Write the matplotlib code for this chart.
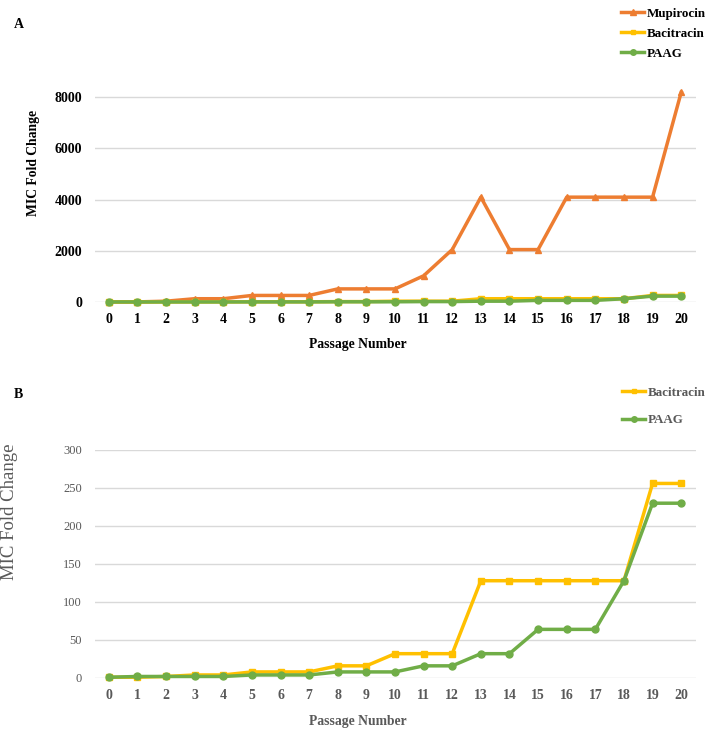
import matplotlib
matplotlib.use('Agg')
import matplotlib.pyplot as plt
from matplotlib.lines import Line2D

# Data
passages = list(range(21))
mupirocin = [1, 4, 32, 128, 128, 256, 256, 256, 512, 512, 512, 1024, 2048,
             4096, 2048, 2048, 4096, 4096, 4096, 4096, 8192]
bacitracin = [1, 1, 2, 4, 4, 8, 8, 8, 16, 16, 32, 32, 32,
              128, 128, 128, 128, 128, 128, 256, 256]
paag = [1, 2, 2, 2, 2, 4, 4, 4, 8, 8, 8, 16, 16,
        32, 32, 64, 64, 64, 128, 230, 230]

ticks_a = [0, 2000, 4000, 6000, 8000]
ticks_b = [0, 50, 100, 150, 200, 250, 300]

ORANGE = '#ED7D31'
GOLD = '#FFC000'
GREEN = '#70AD47'
GRID = '#D9D9D9'
GREY_TXT = '#595959'

plt.rcParams['font.family'] = ['Liberation Serif', 'DejaVu Serif']

W, H = 712, 731
fig = plt.figure(figsize=(W / 100, H / 100), dpi=100)


def px_axes(left, top, right, bottom):
    return fig.add_axes([left / W, 1 - bottom / H, (right - left) / W, (bottom - top) / H])


def px_text(x, y, s, **kw):
    return fig.text(x / W, 1 - y / H, s, **kw)


def style_axes(ax, yticks, color, weight, ysize):
    for s in ax.spines.values():
        s.set_visible(False)
    ax.set_xlim(-0.5, 20.5)
    ax.set_yticks(yticks)
    ax.set_xticks(passages)
    ax.tick_params(length=0, labelcolor=color)
    ax.tick_params(axis='x', labelsize=10, pad=8)
    ax.tick_params(axis='y', labelsize=ysize, pad=9)
    for lab in ax.get_xticklabels():
        lab.set_fontweight('bold')
    for lab in ax.get_yticklabels():
        lab.set_fontweight(weight)
    ax.grid(axis='y', color=GRID, lw=1)
    ax.set_axisbelow(True)


# --- Panel A ---
axA = px_axes(94.5, 87, 695.5, 302)
axA.plot(passages, mupirocin, color=ORANGE, lw=2.5, marker='^', ms=5, clip_on=False, zorder=3)
axA.plot(passages, bacitracin, color=GOLD, lw=2.5, marker='s', ms=4.5, clip_on=False, zorder=4)
axA.plot(passages, paag, color=GREEN, lw=2.5, marker='o', ms=5, clip_on=False, zorder=5)
axA.set_ylim(0, 8400)
style_axes(axA, ticks_a, 'black', 'bold', 10)
px_text(358, 345, 'Passage Number', fontsize=9.8, fontweight='bold', ha='center', va='center')
px_text(33, 163, 'MIC Fold Change', fontsize=9.8, fontweight='bold', rotation=90,
        ha='center', va='center')
px_text(14, 24, 'A', fontsize=10, fontweight='bold', va='center')

hA = [Line2D([], [], color=ORANGE, lw=2.5, marker='^', ms=4),
      Line2D([], [], color=GOLD, lw=2.5, marker='s', ms=3.5),
      Line2D([], [], color=GREEN, lw=2.5, marker='o', ms=4)]
fig.legend(hA, ['Mupirocin', 'Bacitracin', 'PAAG'], loc='upper left',
           bbox_to_anchor=(611 / W, 1 + 3 / H), frameon=False, handlelength=1.75,
           handletextpad=0.15, labelspacing=0.6, borderpad=0.3,
           prop={'size': 9.4, 'weight': 'bold'})

# --- Panel B ---
axB = px_axes(94.5, 450, 695.5, 678)
axB.plot(passages, bacitracin, color=GOLD, lw=2.5, marker='s', ms=4.5, clip_on=False, zorder=4)
axB.plot(passages, paag, color=GREEN, lw=2.5, marker='o', ms=5, clip_on=False, zorder=5)
axB.set_ylim(0, 300)
style_axes(axB, ticks_b, GREY_TXT, 'normal', 9)
px_text(358, 722, 'Passage Number', fontsize=9.8, fontweight='bold', color=GREY_TXT,
        ha='center', va='center')
px_text(10, 512, 'MIC Fold Change', fontsize=13.5, color=GREY_TXT,
        rotation=90, ha='center', va='center')
px_text(14, 395, 'B', fontsize=10, fontweight='bold', va='center')

hB = [Line2D([], [], color=GOLD, lw=2.5, marker='s', ms=3.5),
      Line2D([], [], color=GREEN, lw=2.5, marker='o', ms=4)]
legB = fig.legend(hB, ['Bacitracin', 'PAAG'], loc='upper left',
                  bbox_to_anchor=(612 / W, 1 - 376 / H), frameon=False, handlelength=1.75,
                  handletextpad=0.15, labelspacing=1.2, borderpad=0.3,
                  prop={'size': 9.4, 'weight': 'bold'})
for t in legB.get_texts():
    t.set_color(GREY_TXT)

fig.savefig('out.png', dpi=100)
